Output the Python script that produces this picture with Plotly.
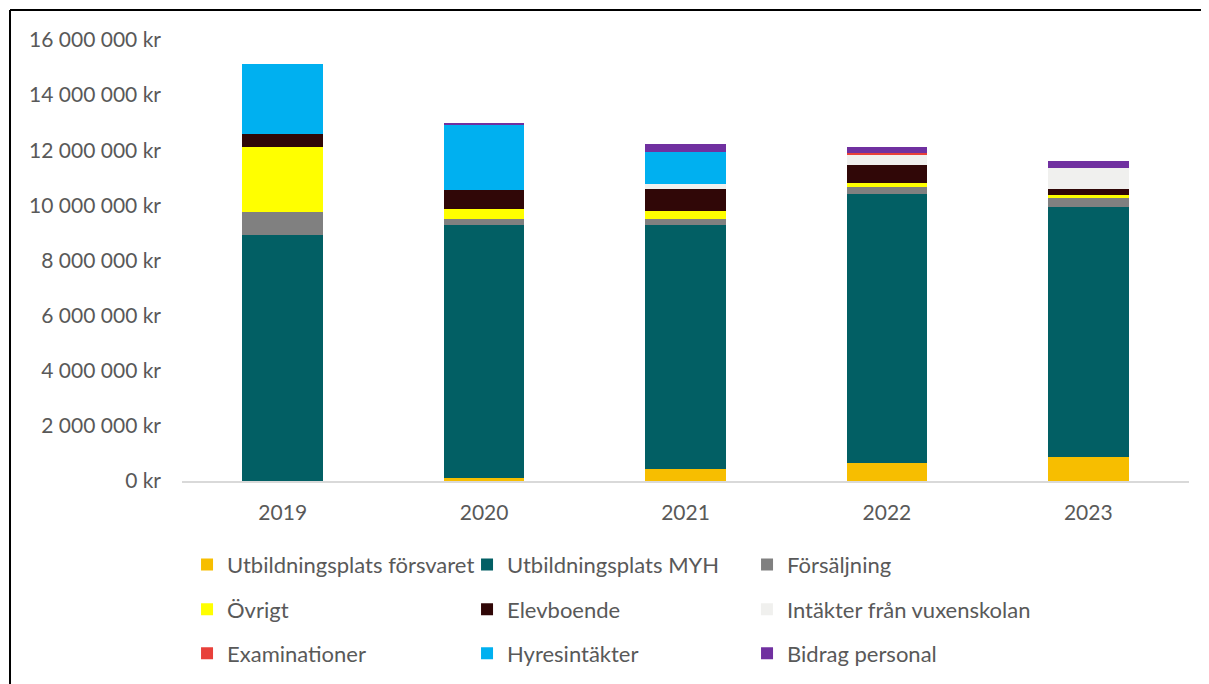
import plotly.graph_objects as go

years = ["2019", "2020", "2021", "2022", "2023"]

utb_forsvaret = [0, 100_000, 420_000, 660_000, 880_000]
utb_myh = [8_930_000, 9_190_000, 8_880_000, 9_760_000, 9_070_000]
forsaljning = [830_000, 210_000, 220_000, 240_000, 330_000]
ovrigt = [2_370_000, 370_000, 280_000, 140_000, 100_000]
elevboende = [460_000, 690_000, 800_000, 650_000, 230_000]
vuxenskolan = [0, 0, 170_000, 380_000, 750_000]
examinationer = [0, 0, 0, 60_000, 0]
hyresintakter = [2_540_000, 2_380_000, 1_160_000, 0, 0]
bidrag_personal = [0, 40_000, 300_000, 230_000, 240_000]

series = [
    ("Utbildningsplats försvaret", utb_forsvaret, "#F7BE00", "legend"),
    ("Utbildningsplats MYH", utb_myh, "#025F64", "legend"),
    ("Försäljning", forsaljning, "#808080", "legend"),
    ("Övrigt", ovrigt, "#FFFF00", "legend2"),
    ("Elevboende", elevboende, "#300707", "legend2"),
    ("Intäkter från vuxenskolan", vuxenskolan, "#F0F0EE", "legend4"),
    ("Examinationer", examinationer, "#E8403A", "legend3"),
    ("Hyresintäkter", hyresintakter, "#00B0F0", "legend3"),
    ("Bidrag personal", bidrag_personal, "#7030A0", "legend3"),
]

FONT = "Lato"
GREY = "#595959"

fig = go.Figure()
for name, vals, color, leg in series:
    fig.add_trace(go.Bar(x=years, y=vals, name=name, marker_color=color,
                         marker_line_width=0, legend=leg))

# one horizontal legend per row, so the rows can be spaced like the original
legend_style = dict(
    orientation="h", entrywidth=235, entrywidthmode="pixels",
    xanchor="left", yanchor="middle",
    font=dict(family=FONT, size=22, color=GREY),
    bgcolor="rgba(0,0,0,0)", itemclick=False, traceorder="normal",
)
free_style = {k: v for k, v in legend_style.items()
              if k not in ("entrywidth", "entrywidthmode")}

# page has an 8px body margin, so the figure is drawn 8px smaller
fig.update_layout(
    barmode="stack",
    bargap=0.6,
    width=1201, height=676,
    margin=dict(l=174, r=20, t=32, b=203, autoexpand=False),
    plot_bgcolor="white", paper_bgcolor="white",
    separators=", ",
    font=dict(family=FONT, color=GREY),
    legend=dict(x=0.005, y=-0.190, **legend_style),
    legend2=dict(x=0.005, y=-0.291, **legend_style),
    legend3=dict(x=0.005, y=-0.391, **legend_style),
    legend4=dict(x=0.561, y=-0.291, **free_style),
    shapes=[
        dict(type="line", xref="paper", yref="paper", x0=-0.1708, x1=1.02,
             y0=1.068, y1=1.068, line=dict(color="black", width=2)),
        dict(type="line", xref="paper", yref="paper", x0=-0.1708, x1=-0.1708,
             y0=1.068, y1=-0.47, line=dict(color="black", width=2)),
    ],
)
fig.update_xaxes(showline=True, linecolor="#D9D9D9", linewidth=2,
                 showgrid=False, ticklabelstandoff=12,
                 tickfont=dict(family=FONT, size=21, color=GREY))
fig.update_yaxes(range=[0, 16_000_000], dtick=2_000_000, tickformat=",.0f",
                 ticksuffix=" kr", showgrid=False, zeroline=False,
                 ticklabelstandoff=20,
                 tickfont=dict(family=FONT, size=21, color=GREY))

fig.write_html("out.html")
